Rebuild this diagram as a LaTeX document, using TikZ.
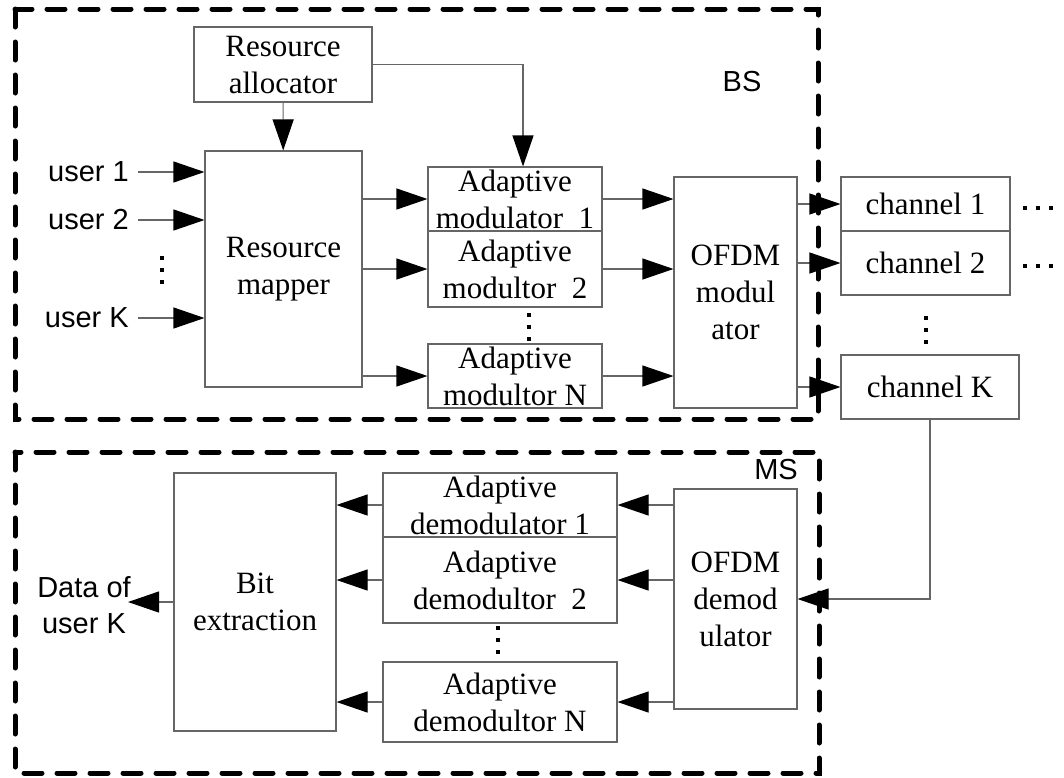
\documentclass[tikz,border=0pt]{standalone}
\usepackage{fontspec}
\setmainfont{Liberation Serif}
\setsansfont{Liberation Sans}
\usetikzlibrary{arrows.meta,calc}

% three square dots, stacked (v) or in a row (h)
\newcommand\vdotsat[1]{\foreach \d in {-12,0,12} \fill ($(#1)+(-2,\d-2)$) rectangle +(4,4);}
\newcommand\hdotsat[1]{\foreach \d in {-13,0,13} \fill ($(#1)+(\d-2,-2)$) rectangle +(4,4);}

\begin{document}
\begin{tikzpicture}[x=1pt, y=-1pt,
    >={Triangle[length=31pt,width=21pt,color=black]},
    block/.style={rectangle, draw=black!60, line width=1.1pt, inner sep=0pt,
      align=center, font=\fontsize{31}{37}\selectfont},
    lbl/.style={inner sep=0pt, align=center, font=\sffamily\fontsize{29}{36}\selectfont},
    arr/.style={draw=black!60, line width=1.1pt, ->},
    group/.style={line width=5pt, line cap=round, dash pattern=on 18pt off 15pt}]

  \useasboundingbox (0,0) rectangle (1064,777);

  % transmitter (BS)
  \node[block, minimum width=178pt, minimum height=75pt] (alloc) at (283,64.5) {Resource\\allocator};
  \node[block, minimum width=157pt, minimum height=236pt] (mapper) at (283.5,269) {Resource\\mapper};
  \node[block, minimum width=174pt, minimum height=64pt] (mod1) at (515,199) {Adaptive\\modulator~~1};
  \node[block, minimum width=174pt, minimum height=76pt] (mod2) at (515,269) {Adaptive\\modultor~~2};
  \node[block, minimum width=174pt, minimum height=64pt] (modN) at (515,376) {Adaptive\\modultor N};
  \node[block, minimum width=123pt, minimum height=231pt] (ofdm) at (735.5,292.5) {OFDM\\modul\\ator};
  \node[block, minimum width=169pt, minimum height=54pt] (ch1) at (925.5,204) {channel 1};
  \node[block, minimum width=169pt, minimum height=64pt] (ch2) at (925.5,263) {channel 2};
  \node[block, minimum width=178pt, minimum height=64pt] (chK) at (930,387) {channel K};

  \node[lbl, anchor=east] (u1) at (129,172) {user 1};
  \node[lbl, anchor=east] (u2) at (129,220) {user 2};
  \node[lbl, anchor=east] (uK) at (129,318) {user K};
  \node[lbl] (bs) at (742,82) {BS};

  \coordinate (udots) at (162,270);
  \coordinate (mdots) at (529,327);
  \coordinate (cdots) at (926,330);
  \coordinate (h1) at (1038,208);
  \coordinate (h2) at (1038,266);
  \vdotsat{udots} \vdotsat{mdots} \vdotsat{cdots}
  \hdotsat{h1} \hdotsat{h2}

  \foreach \u in {u1,u2,uK}
    \draw[arr] ([xshift=9pt]\u.east) -- (\u -| mapper.west);
  \draw[arr] (alloc) -- (mapper);
  \draw[arr] (alloc.east) -| ([xshift=8pt]mod1.north);
  \foreach \m in {mod1,mod2,modN} {
    \draw[arr] (mapper.east |- \m.west) -- (\m.west);
    \draw[arr] (\m.east) -- (\m.east -| ofdm.west);
  }
  \foreach \c in {ch1,ch2,chK}
    \draw[arr] (ofdm.east |- \c.west) -- (\c.west);

  % receiver (MS)
  \node[block, minimum width=162pt, minimum height=258pt] (bitx) at (255,602) {Bit\\extraction};
  \node[block, minimum width=234pt, minimum height=64pt] (dem1) at (500,505) {Adaptive\\demodulator 1};
  \node[block, minimum width=234pt, minimum height=86pt] (dem2) at (500,580) {Adaptive\\demodultor~~2};
  \node[block, minimum width=234pt, minimum height=80pt] (demN) at (500,702) {Adaptive\\demodultor N};
  \node[block, minimum width=123pt, minimum height=220pt] (ofdmd) at (735.5,599) {OFDM\\demod\\ulator};

  \node[lbl] (data) at (84,605) {Data of\\user K};
  \node[lbl] (ms) at (776,470) {MS};
  \coordinate (dout) at (128,602);
  \coordinate (ddots) at (498,640);
  \vdotsat{ddots}

  \draw[arr] (chK.south) |- (ofdmd.east);
  \foreach \d in {dem1,dem2,demN} {
    \draw[arr] (ofdmd.west |- \d.east) -- (\d.east);
    \draw[arr] (\d.west) -- (\d.west -| bitx.east);
  }
  \draw[arr] (bitx.west) -- (dout);

  \draw[group] (15,9) rectangle (818,419);
  \draw[group] (15,452) rectangle (819,773);
\end{tikzpicture}
\end{document}
